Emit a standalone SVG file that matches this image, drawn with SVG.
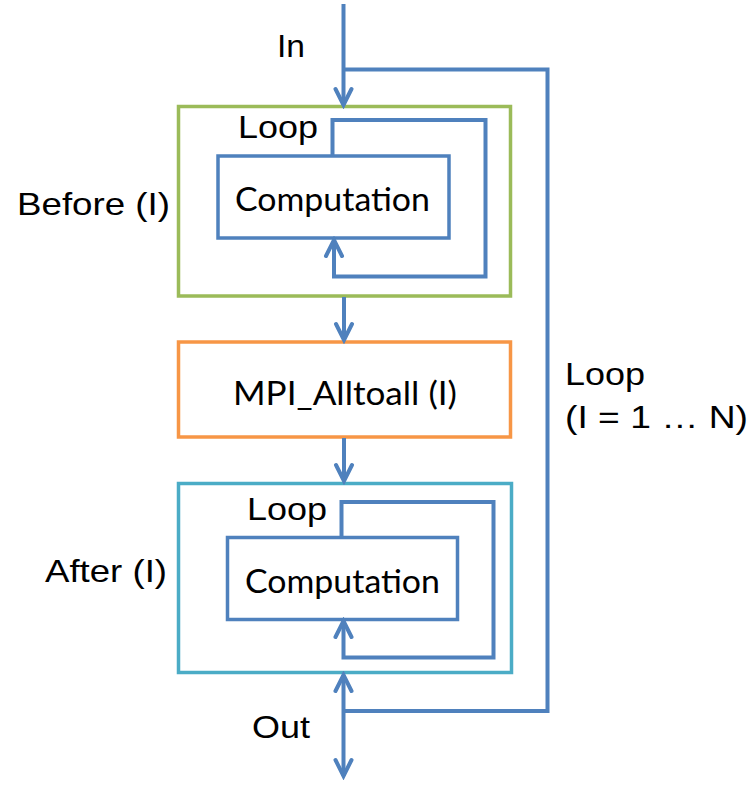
<svg xmlns="http://www.w3.org/2000/svg" width="752" height="806" viewBox="0 0 752 806">
<style>
.t{font-family:"Liberation Sans",Arial,sans-serif;font-size:32px;fill:#000}
.c{font-family:Lato,"Open Sans",sans-serif;font-size:32px;fill:#000}
.ln{fill:none;stroke:#4F81BD;stroke-width:4;stroke-linejoin:miter}
.box{fill:#fff;stroke-width:3.5}
</style>
<defs>
<marker id="ah" markerUnits="userSpaceOnUse" viewBox="-20 -12 24 24" refX="0" refY="0" markerWidth="24" markerHeight="24" orient="auto">
<path d="M-16,-8 L0,0 L-16,8" fill="none" stroke="#4F81BD" stroke-width="4" stroke-linecap="round"/>
</marker>
<marker id="ahs" markerUnits="userSpaceOnUse" viewBox="-20 -12 24 24" refX="0" refY="0" markerWidth="24" markerHeight="24" orient="auto-start-reverse">
<path d="M-16,-8 L0,0 L-16,8" fill="none" stroke="#4F81BD" stroke-width="4" stroke-linecap="round"/>
</marker>
</defs>
<rect width="752" height="806" fill="#fff"/>
<g id="before">
<rect class="box" x="178.5" y="106.5" width="332" height="189.5" stroke="#9BBB59"/>
<text class="t" x="17" y="215" textLength="153" lengthAdjust="spacingAndGlyphs">Before (I)</text>
<text class="t" x="238" y="138" textLength="80" lengthAdjust="spacingAndGlyphs">Loop</text>
</g>
<g id="comp1">
<rect class="box" x="218" y="156" width="231" height="82" stroke="#4F81BD" stroke-width="4"/>
<text class="c" x="235" y="211" textLength="195" lengthAdjust="spacingAndGlyphs">Computation</text>
</g>
<g id="alltoall">
<rect class="box" x="178.5" y="342" width="332" height="95" stroke="#F79646"/>
<text class="c" x="233" y="405" textLength="224" lengthAdjust="spacingAndGlyphs">MPI_Alltoall (I)</text>
</g>
<g id="after">
<rect class="box" x="178.5" y="483.5" width="333" height="189" stroke="#4BACC6"/>
<text class="t" x="45" y="582" textLength="122" lengthAdjust="spacingAndGlyphs">After (I)</text>
<text class="t" x="247" y="520" textLength="80" lengthAdjust="spacingAndGlyphs">Loop</text>
</g>
<g id="comp2">
<rect class="box" x="227.5" y="537.5" width="230" height="82" stroke="#4F81BD" stroke-width="4"/>
<text class="c" x="245" y="593" textLength="195" lengthAdjust="spacingAndGlyphs">Computation</text>
</g>
<g id="labels">
<text class="t" x="277" y="57" textLength="28" lengthAdjust="spacingAndGlyphs">In</text>
<text class="t" x="252" y="738" textLength="58" lengthAdjust="spacingAndGlyphs">Out</text>
<text class="t" x="565" y="385" textLength="80" lengthAdjust="spacingAndGlyphs">Loop</text>
<text class="t" x="565" y="428" textLength="183" lengthAdjust="spacingAndGlyphs">(I = 1 … N)</text>
</g>
<g id="connectors">
<path class="ln" d="M343.5,4 V105" marker-end="url(#ah)"/>
<path class="ln" d="M343.5,69.5 H547.5 V711 H343.5"/>
<path class="ln" d="M332.5,156 V120 H485.5 V276.5 H334 V240" marker-end="url(#ah)"/>
<path class="ln" d="M344,297 V340" marker-end="url(#ah)"/>
<path class="ln" d="M344,438 V481" marker-end="url(#ah)"/>
<path class="ln" d="M341.5,537.5 V502 H493.5 V657.5 H343.5 V621" marker-end="url(#ah)"/>
<path class="ln" d="M343.5,675 V776" marker-start="url(#ahs)" marker-end="url(#ah)"/>
</g>
</svg>
